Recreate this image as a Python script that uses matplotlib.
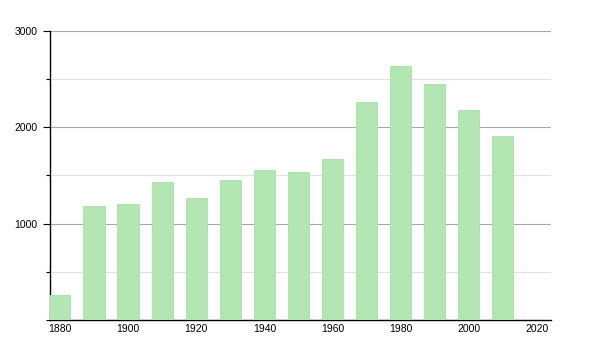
import matplotlib
matplotlib.use("Agg")
import matplotlib.pyplot as plt
from matplotlib.ticker import MultipleLocator

years = [1880, 1890, 1900, 1910, 1920, 1930, 1940, 1950, 1960, 1970, 1980, 1990, 2000, 2010]
population = [259, 1183, 1204, 1429, 1263, 1449, 1553, 1532, 1667, 2264, 2629, 2443, 2181, 1912]
xticks = [1880, 1900, 1920, 1940, 1960, 1980, 2000, 2020]
yticks = [1000, 2000, 3000]

plt.rcParams['font.family'] = ['Liberation Sans', 'DejaVu Sans']

fig = plt.figure(figsize=(6, 3.5), dpi=100)
ax = fig.add_axes([0.0833, 0.0857, 0.835, 0.827])

ax.bar(years, population, width=6.2, color='#b3e6b3', edgecolor='#aadeaa', linewidth=0.6, zorder=3)

ax.set_xlim(1877.1, 2024.1)
ax.set_ylim(0, 3000)
ax.set_xticks(xticks)
ax.set_yticks(yticks)
ax.yaxis.set_minor_locator(MultipleLocator(500))

ax.grid(axis='y', which='major', color='#a8a8a8', linewidth=0.8, zorder=0)
ax.grid(axis='y', which='minor', color='#e2e2e2', linewidth=0.8, zorder=0)

ax.spines['top'].set_visible(False)
ax.spines['right'].set_visible(False)
ax.spines['left'].set_linewidth(1.0)
ax.spines['bottom'].set_linewidth(1.0)

ax.tick_params(axis='y', which='major', length=5, width=0.8, labelsize=7.5, pad=4)
ax.tick_params(axis='y', which='minor', length=3, width=0.8)
ax.tick_params(axis='x', which='major', length=0, labelsize=7.5, pad=3)

fig.savefig('out.png', dpi=100)
